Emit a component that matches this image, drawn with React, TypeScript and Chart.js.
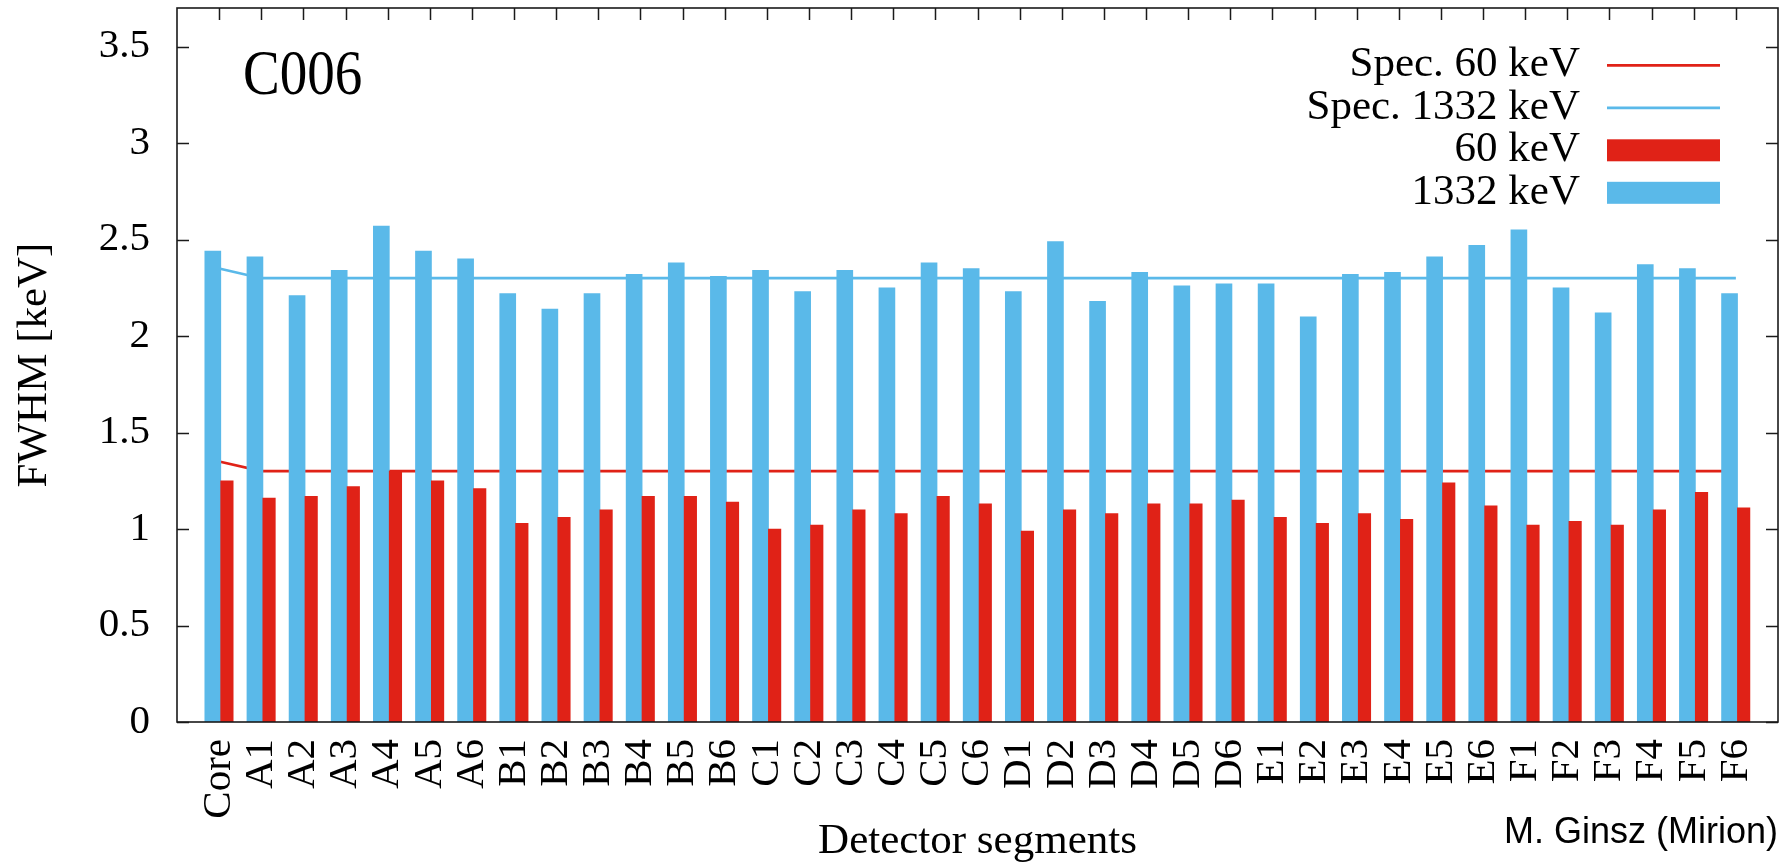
import { useEffect, useRef } from "react";
import { Chart, registerables } from "chart.js";

Chart.register(...registerables);

// Detector segments of C006 and their measured energy resolution (FWHM, keV)
const segments = [
  "Core", "A1", "A2", "A3", "A4", "A5", "A6",
  "B1", "B2", "B3", "B4", "B5", "B6",
  "C1", "C2", "C3", "C4", "C5", "C6",
  "D1", "D2", "D3", "D4", "D5", "D6",
  "E1", "E2", "E3", "E4", "E5", "E6",
  "F1", "F2", "F3", "F4", "F5", "F6",
];

const fwhm1332 = [
  2.44, 2.41, 2.21, 2.34, 2.57, 2.44, 2.40,
  2.22, 2.14, 2.22, 2.32, 2.38, 2.31,
  2.34, 2.23, 2.34, 2.25, 2.38, 2.35,
  2.23, 2.49, 2.18, 2.33, 2.26, 2.27,
  2.27, 2.10, 2.32, 2.33, 2.41, 2.47,
  2.55, 2.25, 2.12, 2.37, 2.35, 2.22,
];

const fwhm60 = [
  1.25, 1.16, 1.17, 1.22, 1.30, 1.25, 1.21,
  1.03, 1.06, 1.10, 1.17, 1.17, 1.14,
  1.00, 1.02, 1.10, 1.08, 1.17, 1.13,
  0.99, 1.10, 1.08, 1.13, 1.13, 1.15,
  1.06, 1.03, 1.08, 1.05, 1.24, 1.12,
  1.02, 1.04, 1.02, 1.10, 1.19, 1.11,
];

// Specification limits per segment
const spec1332 = [
  2.35, 2.3, 2.3, 2.3, 2.3, 2.3, 2.3,
  2.3, 2.3, 2.3, 2.3, 2.3, 2.3,
  2.3, 2.3, 2.3, 2.3, 2.3, 2.3,
  2.3, 2.3, 2.3, 2.3, 2.3, 2.3,
  2.3, 2.3, 2.3, 2.3, 2.3, 2.3,
  2.3, 2.3, 2.3, 2.3, 2.3, 2.3,
];

const spec60 = [
  1.35, 1.3, 1.3, 1.3, 1.3, 1.3, 1.3,
  1.3, 1.3, 1.3, 1.3, 1.3, 1.3,
  1.3, 1.3, 1.3, 1.3, 1.3, 1.3,
  1.3, 1.3, 1.3, 1.3, 1.3, 1.3,
  1.3, 1.3, 1.3, 1.3, 1.3, 1.3,
  1.3, 1.3, 1.3, 1.3, 1.3, 1.3,
];

const yTicks = [0, 0.5, 1, 1.5, 2, 2.5, 3, 3.5];

const detectorName = "C006";
const xTitle = "Detector segments";
const yTitle = "FWHM [keV]";
const credit = "M. Ginsz (Mirion)";

// ---- styling ----
const W = 1791;
const H = 862;
const BLUE = "#5ab9e9";
const RED = "#e02217";
const INK = "#1a1a1a";
const SERIF = "'Liberation Serif', 'Times New Roman', serif";
const SANS = "'Liberation Sans', Arial, sans-serif";
const TICK_LEN = 12;
const BLUE_SHIFT = -0.15; // blue bar sits left of the segment position
const RED_SHIFT = 0.185; // red bar sits right of it
const BLUE_THICK = 16;
const RED_THICK = 12.5;

const framePlugin = {
  id: "frame",
  beforeDatasetsDraw(chart: any) {
    const { ctx, chartArea: a, scales } = chart;
    const x = scales.x;
    const y = scales.y;
    ctx.save();
    ctx.strokeStyle = INK;
    ctx.lineWidth = 1.5;
    ctx.beginPath();
    for (const v of yTicks) {
      const py = Math.round(y.getPixelForValue(v)) + 0.5;
      ctx.moveTo(a.left, py);
      ctx.lineTo(a.left + TICK_LEN, py);
      ctx.moveTo(a.right, py);
      ctx.lineTo(a.right - TICK_LEN, py);
    }
    segments.forEach((_, i) => {
      const px = Math.round(x.getPixelForValue(i)) + 0.5;
      ctx.moveTo(px, a.top);
      ctx.lineTo(px, a.top + TICK_LEN);
      ctx.moveTo(px, a.bottom);
      ctx.lineTo(px, a.bottom - TICK_LEN);
    });
    ctx.stroke();
    ctx.restore();
  },
  afterDatasetsDraw(chart: any) {
    const { ctx, chartArea: a } = chart;
    ctx.save();
    ctx.strokeStyle = INK;
    ctx.lineWidth = 1.6;
    ctx.strokeRect(a.left, a.top, a.right - a.left, a.bottom - a.top);
    ctx.restore();
  },
  afterDraw(chart: any) {
    const { ctx, chartArea: a } = chart;
    ctx.save();
    ctx.fillStyle = "#000";

    // detector name
    ctx.save();
    ctx.translate(243, 94);
    ctx.scale(0.86, 1);
    ctx.font = `64px ${SERIF}`;
    ctx.textAlign = "left";
    ctx.textBaseline = "alphabetic";
    ctx.fillText(detectorName, 0, 0);
    ctx.restore();

    // legend: text right-aligned, sample to its right
    const rowY0 = 65.3;
    const rowStep = 42.5;
    const textRight = 1580;
    const sampleL = 1607;
    const sampleR = 1720;
    ctx.font = `43px ${SERIF}`;
    ctx.textAlign = "right";
    ctx.textBaseline = "alphabetic";
    chart.data.datasets.forEach((ds: any, i: number) => {
      const cy = rowY0 + i * rowStep;
      ctx.fillStyle = "#000";
      ctx.fillText(ds.label, textRight, cy + 11);
      if (ds.type === "line") {
        ctx.strokeStyle = ds.borderColor;
        ctx.lineWidth = 2.7;
        ctx.beginPath();
        ctx.moveTo(sampleL, cy);
        ctx.lineTo(sampleR, cy);
        ctx.stroke();
      } else {
        ctx.fillStyle = ds.backgroundColor;
        ctx.fillRect(sampleL, cy - 11, sampleR - sampleL, 22);
      }
    });

    // axis titles
    ctx.fillStyle = "#000";
    ctx.font = `43px ${SERIF}`;
    ctx.textAlign = "center";
    ctx.textBaseline = "alphabetic";
    ctx.fillText(xTitle, (a.left + a.right) / 2, 853);

    ctx.save();
    ctx.translate(46, (a.top + a.bottom) / 2);
    ctx.rotate(-Math.PI / 2);
    ctx.fillText(yTitle, 0, 0);
    ctx.restore();

    // credit
    ctx.font = `36px ${SANS}`;
    ctx.textAlign = "right";
    ctx.fillText(credit, a.right, 843);

    ctx.restore();
  },
};

export default function App() {
  const canvasRef = useRef<HTMLCanvasElement>(null);

  useEffect(() => {
    const canvas = canvasRef.current;
    if (!canvas) return;

    const chart = new Chart(canvas, {
      type: "bar",
      data: {
        datasets: [
          {
            type: "line",
            label: "Spec. 60 keV",
            data: spec60.map((v, i) => ({ x: i, y: v })),
            borderColor: RED,
            borderWidth: 2.6,
            pointRadius: 0,
            tension: 0,
            fill: false,
            order: 2,
          },
          {
            type: "line",
            label: "Spec. 1332 keV",
            data: spec1332.map((v, i) => ({ x: i, y: v })),
            borderColor: BLUE,
            borderWidth: 2.6,
            pointRadius: 0,
            tension: 0,
            fill: false,
            order: 2,
          },
          {
            type: "bar",
            label: "60 keV",
            data: fwhm60.map((v, i) => ({ x: i + RED_SHIFT, y: v })),
            backgroundColor: RED,
            borderWidth: 0,
            barThickness: RED_THICK,
            grouped: false,
            order: 1,
          },
          {
            type: "bar",
            label: "1332 keV",
            data: fwhm1332.map((v, i) => ({ x: i + BLUE_SHIFT, y: v })),
            backgroundColor: BLUE,
            borderWidth: 0,
            barThickness: BLUE_THICK,
            grouped: false,
            order: 1,
          },
        ] as any,
      },
      options: {
        responsive: false,
        animation: false,
        devicePixelRatio: 1,
        layout: { padding: { top: 8, right: 13, left: 0, bottom: 0 } },
        plugins: {
          legend: { display: false },
          tooltip: { enabled: false },
        },
        scales: {
          x: {
            type: "linear",
            min: -1,
            max: 37,
            offset: false,
            grid: { display: false, drawTicks: false, offset: false },
            border: { display: false },
            afterBuildTicks: (scale: any) => {
              scale.ticks = segments.map((_, i) => ({ value: i }));
            },
            afterFit: (scale: any) => {
              scale.height = 140;
              scale.paddingLeft = 0;
              scale.paddingRight = 0;
              scale.paddingTop = 0;
              scale.paddingBottom = 0;
            },
            ticks: {
              autoSkip: false,
              minRotation: 90,
              maxRotation: 90,
              padding: 17,
              color: "#000",
              font: { family: SERIF, size: 41 },
              callback: (value: any) => segments[Math.round(Number(value))] ?? "",
            },
          },
          y: {
            min: 0,
            max: 3.7,
            grid: { display: false, drawTicks: false },
            border: { display: false },
            afterBuildTicks: (scale: any) => {
              scale.ticks = yTicks.map((v) => ({ value: v }));
            },
            afterFit: (scale: any) => {
              scale.width = 177;
              scale.paddingLeft = 0;
              scale.paddingRight = 0;
              scale.paddingTop = 0;
              scale.paddingBottom = 0;
            },
            ticks: {
              padding: 27,
              color: "#000",
              font: { family: SERIF, size: 41 },
              callback: (value: any) => String(value),
            },
          },
        },
      } as any,
      plugins: [framePlugin],
    });

    return () => chart.destroy();
  }, []);

  return (
    <div
      style={{
        position: "fixed",
        left: 0,
        top: 0,
        width: W,
        height: H,
        background: "#fff",
      }}
    >
      <canvas
        ref={canvasRef}
        width={W}
        height={H}
        style={{ display: "block", width: W, height: H }}
      />
    </div>
  );
}
